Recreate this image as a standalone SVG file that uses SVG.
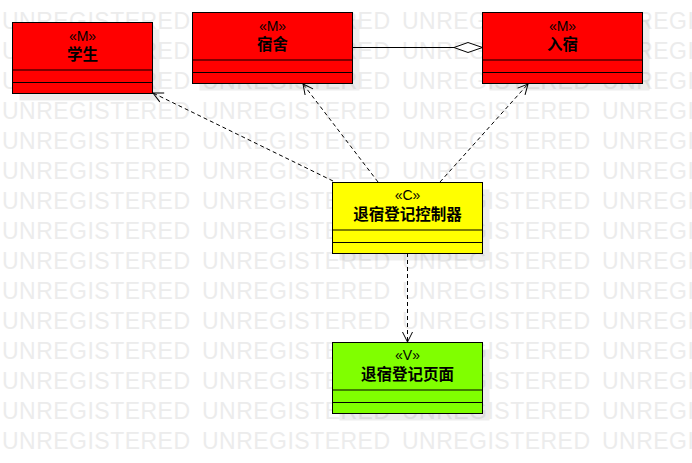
<svg xmlns="http://www.w3.org/2000/svg" width="692" height="463" viewBox="0 0 692 463">
<defs>
<style>
.wm{font-family:"Liberation Sans","DejaVu Sans",sans-serif;font-size:23px;fill:#ececec}
.box{stroke:#000;stroke-width:1}
.sh{fill:#000;opacity:0.07}
.sep{stroke:#000;stroke-width:1}
.st{font-family:"Liberation Sans","Noto Sans CJK SC",sans-serif;font-size:14px;fill:#000;text-anchor:middle}
.nm{font-family:"Liberation Sans","Noto Sans CJK SC",sans-serif;font-size:15.5px;font-weight:bold;fill:#000;text-anchor:middle}
.dep{fill:none;stroke:#000;stroke-width:1;stroke-dasharray:4 3}
</style>
<marker id="open" viewBox="0 0 12 12" refX="11" refY="6" markerWidth="12" markerHeight="12" markerUnits="userSpaceOnUse" orient="auto">
<path d="M1,1 L11,6 L1,11" fill="none" stroke="#000" stroke-width="1"/>
</marker>
<g id="wmrow">
<text class="wm" x="2" y="0" textLength="188">UNREGISTERED</text>
<text class="wm" x="202" y="0" textLength="188">UNREGISTERED</text>
<text class="wm" x="402" y="0" textLength="188">UNREGISTERED</text>
<text class="wm" x="602" y="0" textLength="188">UNREGISTERED</text>
</g>
</defs>
<rect width="692" height="463" fill="#fff"/>
<g id="watermark">
<use href="#wmrow" y="29"/><use href="#wmrow" y="59"/><use href="#wmrow" y="89"/><use href="#wmrow" y="119"/>
<use href="#wmrow" y="149"/><use href="#wmrow" y="179"/><use href="#wmrow" y="209"/><use href="#wmrow" y="239"/>
<use href="#wmrow" y="269"/><use href="#wmrow" y="299"/><use href="#wmrow" y="329"/><use href="#wmrow" y="359"/>
<use href="#wmrow" y="389"/><use href="#wmrow" y="419"/><use href="#wmrow" y="449"/>
</g>
<g id="shadows">
<rect class="sh" x="19.5" y="29.5" width="140" height="71"/>
<rect class="sh" x="199.5" y="19.5" width="160" height="71"/>
<rect class="sh" x="489.5" y="19.5" width="160" height="71"/>
<rect class="sh" x="339.5" y="189.5" width="150" height="71"/>
<rect class="sh" x="339.5" y="349.5" width="150" height="71"/>
</g>
<g id="connectors">
<line x1="352.5" y1="47.5" x2="454" y2="47.5" stroke="#000" stroke-width="1"/>
<path d="M482.5,47.5 L468,42.5 L454,47.5 L468,52.5 Z" fill="#fff" stroke="#000" stroke-width="1"/>
<line class="dep" x1="333" y1="181" x2="153" y2="93" marker-end="url(#open)"/>
<line class="dep" x1="378" y1="182" x2="303" y2="84" marker-end="url(#open)"/>
<line class="dep" x1="440" y1="182" x2="528" y2="84" marker-end="url(#open)"/>
<line class="dep" x1="407.5" y1="253" x2="407.5" y2="342" marker-end="url(#open)"/>
</g>
<g id="student">
<rect class="box" x="12.5" y="22.5" width="140" height="71" fill="#ff0000"/>
<line class="sep" x1="12.5" y1="70" x2="152.5" y2="70"/>
<line class="sep" x1="12.5" y1="82.5" x2="152.5" y2="82.5"/>
<text class="st" x="82.5" y="41">«M»</text>
<text class="nm" x="82.5" y="60">学生</text>
</g>
<g id="dorm">
<rect class="box" x="192.5" y="12.5" width="160" height="71" fill="#ff0000"/>
<line class="sep" x1="192.5" y1="60" x2="352.5" y2="60"/>
<line class="sep" x1="192.5" y1="72.5" x2="352.5" y2="72.5"/>
<text class="st" x="272.5" y="31">«M»</text>
<text class="nm" x="272.5" y="50">宿舍</text>
</g>
<g id="checkin">
<rect class="box" x="482.5" y="12.5" width="160" height="71" fill="#ff0000"/>
<line class="sep" x1="482.5" y1="60" x2="642.5" y2="60"/>
<line class="sep" x1="482.5" y1="72.5" x2="642.5" y2="72.5"/>
<text class="st" x="562.5" y="31">«M»</text>
<text class="nm" x="562.5" y="50">入宿</text>
</g>
<g id="controller">
<rect class="box" x="332.5" y="182.5" width="150" height="71" fill="#ffff00"/>
<line class="sep" x1="332.5" y1="230" x2="482.5" y2="230"/>
<line class="sep" x1="332.5" y1="242.5" x2="482.5" y2="242.5"/>
<text class="st" x="407.5" y="200">«C»</text>
<text class="nm" x="407.5" y="220">退宿登记控制器</text>
</g>
<g id="view">
<rect class="box" x="332.5" y="342.5" width="150" height="71" fill="#80ff00"/>
<line class="sep" x1="332.5" y1="390" x2="482.5" y2="390"/>
<line class="sep" x1="332.5" y1="402.5" x2="482.5" y2="402.5"/>
<text class="st" x="407.5" y="360">«V»</text>
<text class="nm" x="407.5" y="380">退宿登记页面</text>
</g>
</svg>
